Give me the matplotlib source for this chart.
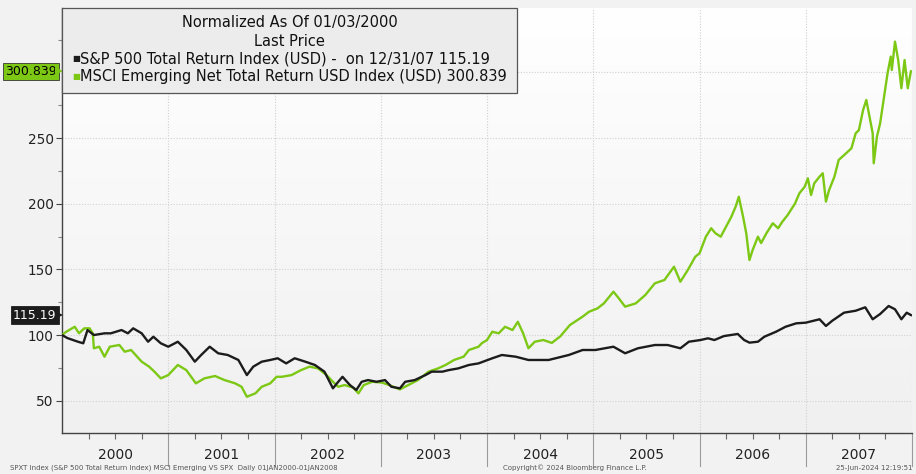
import numpy as np
import matplotlib
matplotlib.use("Agg")
import matplotlib.pyplot as plt
from matplotlib.transforms import blended_transform_factory
from matplotlib.patches import Rectangle

# ---------------- data (decimal years, normalized values) ----------------
spx_t = [2000.00, 2000.05, 2000.15, 2000.20, 2000.24, 2000.30, 2000.40, 2000.46, 2000.56, 2000.62,
         2000.67, 2000.75, 2000.81, 2000.86, 2000.93, 2001.00, 2001.09, 2001.17, 2001.25, 2001.31,
         2001.39, 2001.47, 2001.56, 2001.66, 2001.74, 2001.80, 2001.88, 2001.96, 2002.03, 2002.11,
         2002.19, 2002.29, 2002.38, 2002.47, 2002.55, 2002.60, 2002.64, 2002.71, 2002.77, 2002.82,
         2002.88, 2002.96, 2003.04, 2003.10, 2003.18, 2003.23, 2003.32, 2003.42, 2003.48, 2003.58,
         2003.64, 2003.73, 2003.83, 2003.92, 2004.05, 2004.14, 2004.27, 2004.39, 2004.58, 2004.77,
         2004.90, 2005.02, 2005.19, 2005.30, 2005.42, 2005.58, 2005.70, 2005.82, 2005.90, 2006.01,
         2006.08, 2006.14, 2006.23, 2006.36, 2006.42, 2006.47, 2006.55, 2006.61, 2006.72, 2006.81,
         2006.91, 2007.00, 2007.13, 2007.19, 2007.25, 2007.36, 2007.47, 2007.56, 2007.63, 2007.70,
         2007.78, 2007.84, 2007.90, 2007.95, 2007.99]
spx_v = [100.0, 97.7, 94.9, 93.7, 103.8, 100.0, 101.3, 101.3, 103.8, 101.3,
         105.1, 101.3, 94.9, 98.7, 93.7, 91.1, 94.9, 88.6, 79.7, 84.8,
         91.1, 86.1, 84.8, 81.0, 69.5, 75.9, 79.7, 81.0, 82.3, 78.4,
         82.3, 79.7, 77.2, 72.1, 59.4, 64.4, 68.2, 61.9, 58.1, 64.4,
         65.7, 64.4, 65.7, 60.6, 59.4, 64.4, 65.7, 69.5, 72.1, 72.1,
         73.3, 74.6, 77.2, 78.4, 82.3, 84.8, 83.5, 81.0, 81.0, 84.8,
         88.6, 88.6, 91.1, 86.1, 89.9, 92.4, 92.4, 89.9, 94.9, 96.2,
         97.5, 96.2, 99.2, 100.8, 96.2, 94.2, 94.9, 98.7, 102.5, 106.3,
         108.9, 109.4, 112.0, 106.9, 110.9, 117.0, 118.5, 121.1, 112.0, 116.0,
         122.1, 119.6, 112.0, 117.0, 115.19]

em_t = [2000.00, 2000.04, 2000.12, 2000.16, 2000.21, 2000.26, 2000.29, 2000.30, 2000.35, 2000.40,
        2000.45, 2000.54, 2000.59, 2000.65, 2000.75, 2000.82, 2000.87, 2000.93, 2001.00, 2001.09,
        2001.17, 2001.26, 2001.34, 2001.44, 2001.53, 2001.63, 2001.69, 2001.74, 2001.82, 2001.88,
        2001.96, 2002.02, 2002.07, 2002.16, 2002.25, 2002.33, 2002.41, 2002.49, 2002.55, 2002.60,
        2002.66, 2002.74, 2002.79, 2002.84, 2002.92, 2003.01, 2003.08, 2003.18, 2003.26, 2003.35,
        2003.45, 2003.54, 2003.61, 2003.69, 2003.78, 2003.83, 2003.92, 2003.95, 2004.00, 2004.05,
        2004.11, 2004.17, 2004.24, 2004.29, 2004.34, 2004.39, 2004.45, 2004.53, 2004.61, 2004.69,
        2004.78, 2004.90, 2004.96, 2005.04, 2005.10, 2005.19, 2005.24, 2005.30, 2005.40, 2005.49,
        2005.58, 2005.67, 2005.76, 2005.82, 2005.89, 2005.96, 2006.00, 2006.03, 2006.06, 2006.11,
        2006.15, 2006.20, 2006.25, 2006.30, 2006.34, 2006.37, 2006.41, 2006.44, 2006.47, 2006.50,
        2006.55, 2006.58, 2006.63, 2006.69, 2006.74, 2006.78, 2006.83, 2006.90, 2006.94, 2006.99,
        2007.02, 2007.05, 2007.08, 2007.13, 2007.16, 2007.19, 2007.22, 2007.27, 2007.31, 2007.38,
        2007.43, 2007.47, 2007.50, 2007.54, 2007.57, 2007.60, 2007.63, 2007.64, 2007.67, 2007.70,
        2007.73, 2007.77, 2007.80, 2007.81, 2007.84, 2007.87, 2007.90, 2007.93, 2007.96, 2007.99]
em_v = [100.0, 102.5, 106.3, 101.3, 105.1, 105.1, 101.3, 89.9, 91.1, 83.5,
        91.1, 92.4, 87.3, 88.6, 79.7, 75.9, 72.1, 67.0, 69.5, 77.2,
        73.3, 63.2, 67.0, 68.8, 65.7, 63.2, 60.6, 53.0, 55.6, 60.6,
        63.2, 68.2, 68.2, 69.5, 73.3, 75.9, 74.6, 69.5, 64.4, 60.6,
        61.9, 60.0, 55.6, 61.9, 64.4, 63.8, 61.9, 58.6, 61.9, 65.7,
        72.1, 74.6, 77.2, 81.0, 83.5, 88.6, 91.1, 93.7, 96.2, 102.5,
        101.3, 106.3, 103.8, 110.1, 101.3, 89.9, 94.9, 96.2, 94.0, 99.0,
        107.6, 114.0, 117.7, 120.3, 124.1, 133.0, 128.0, 121.6, 124.1, 130.5,
        139.4, 141.9, 152.0, 140.6, 149.5, 159.6, 162.2, 168.5, 174.9, 181.3,
        177.5, 174.9, 182.5, 190.1, 197.7, 205.3, 190.1, 177.5, 157.1, 164.7,
        174.9, 170.0, 177.5, 185.1, 181.3, 186.3, 191.4, 200.3, 207.9, 212.9,
        219.3, 206.6, 215.5, 220.6, 223.2, 201.6, 210.4, 220.6, 233.3, 238.4,
        242.2, 253.6, 256.0, 271.4, 279.0, 266.3, 253.6, 230.8, 251.0, 261.2,
        277.7, 299.3, 312.0, 301.8, 323.4, 309.4, 287.9, 309.4, 287.9, 300.839]

years = [2000, 2001, 2002, 2003, 2004, 2005, 2006, 2007]
y_ticks = [50, 100, 150, 200, 250]
grid_y = [50, 100, 150, 200, 250, 300]

spx_label = "S&P 500 Total Return Index (USD) -  on 12/31/07 115.19"
em_label = "MSCI Emerging Net Total Return USD Index (USD) 300.839"
spx_last = "115.19"
em_last = "300.839"

BLACK = "#1c1c1c"
GREEN = "#7cc815"

# ---------------- figure ----------------
W, H = 916, 474
fig = plt.figure(figsize=(W / 100, H / 100), dpi=100, facecolor="#f2f2f2")
L, R, T, B = 62, 912, 8, 433
ax = fig.add_axes([L / W, 1 - B / H, (R - L) / W, (B - T) / H])
ax.set_xlim(2000.0, 2008.0)
ax.set_ylim(25.4, 349)
ax.set_facecolor("#f7f7f7")

# gradient background
grad = np.linspace(1.0, 0.0, 256).reshape(-1, 1)
ax.imshow(grad, extent=[0, 1, 0, 1], transform=ax.transAxes, aspect="auto",
          cmap=matplotlib.colors.LinearSegmentedColormap.from_list("g", ["#f0f0f0", "#ffffff"]),
          zorder=0, interpolation="bicubic")

# grid
for gy in grid_y:
    ax.axhline(gy, color="#d0d0d0", lw=0.8, ls=(0, (1, 1.5)), zorder=1)
for yr in years[1:] + [2008]:
    ax.axvline(yr, color="#d0d0d0", lw=0.8, ls=(0, (1, 1.5)), zorder=1)

ax.plot(em_t, em_v, color=GREEN, lw=1.7, zorder=3, solid_joinstyle="round")
ax.plot(spx_t, spx_v, color=BLACK, lw=1.7, zorder=4, solid_joinstyle="round")

# spines
for s in ["top", "right"]:
    ax.spines[s].set_visible(False)
for s in ["left", "bottom"]:
    ax.spines[s].set_color("#444444")
    ax.spines[s].set_linewidth(1.0)

ax.set_yticks(y_ticks)
ax.set_yticklabels([str(v) for v in y_ticks], fontsize=9.8, color="#222222")
ax.set_yticks([75, 125, 175, 225, 275, 325], minor=True)
ax.tick_params(axis="y", which="major", length=4, width=0.8, color="#444444", pad=2)
ax.tick_params(axis="y", which="minor", length=3, width=0.8, color="#888888")

qticks = [y + q / 4 for y in years for q in range(1, 4)]
ax.set_xticks(qticks, minor=True)
ax.set_xticks([])
ax.tick_params(axis="x", which="minor", length=4, width=0.8, color="#666666")

# year labels and separators
bt = blended_transform_factory(ax.transData, fig.transFigure)
for yr in years:
    ax.text(yr + 0.5, 1 - 455 / H, str(yr), transform=bt, ha="center", va="center",
            fontsize=10, color="#222222")
for yr in years[1:] + [2008]:
    ax.plot([yr, yr], [1 - B / H, 1 - 466 / H], transform=bt, color="#9a9a9a",
            lw=0.8, clip_on=False)

# last-value tags on the left
tt = blended_transform_factory(ax.transAxes, ax.transData)
for val, txt, fc, tc in [(spx_v[-1], spx_last, BLACK, "white"), (em_v[-1], em_last, GREEN, "black")]:
    ax.text(-0.0065, val, txt, transform=tt, ha="right", va="center", fontsize=9, color=tc,
            bbox=dict(boxstyle="square,pad=0.18", fc=fc, ec="#333333" if fc == GREEN else fc, lw=0.6),
            zorder=10, clip_on=False)
    ax.plot([-0.0035], [val], transform=tt, marker=">", ms=6, color=fc, clip_on=False, zorder=11,
            markeredgewidth=0)

# legend box
ax_fig = fig.transFigure
box = Rectangle((L / W, 1 - 93 / H), (517 - L) / W, (93 - T) / H, transform=ax_fig,
                fc="#ececec", ec="#555555", lw=0.9, zorder=20)
fig.patches.append(box)
cx = (L + 517) / 2 / W
FS = 10.5
fig.text(cx, 1 - 22 / H, "Normalized As Of 01/03/2000", ha="center", va="center", fontsize=FS,
         color="#111111", zorder=21)
fig.text(cx, 1 - 41 / H, "Last Price", ha="center", va="center", fontsize=FS, color="#111111", zorder=21)
fig.text(72 / W, 1 - 59 / H, "■", ha="left", va="center", fontsize=6, color=BLACK, zorder=21)
fig.text(80 / W, 1 - 59 / H, spx_label, ha="left", va="center", fontsize=FS, color="#111111", zorder=21)
fig.text(72 / W, 1 - 76 / H, "■", ha="left", va="center", fontsize=6, color=GREEN, zorder=21)
fig.text(80 / W, 1 - 76 / H, em_label, ha="left", va="center", fontsize=FS, color="#111111", zorder=21)

# footer
fig.text(10 / W, 1 - 468 / H, "SPXT Index (S&P 500 Total Return Index) MSCI Emerging VS SPX  Daily 01JAN2000-01JAN2008",
         ha="left", va="center", fontsize=5.0, color="#555555")
fig.text(575 / W, 1 - 468 / H, "Copyright© 2024 Bloomberg Finance L.P.", ha="center", va="center",
         fontsize=5.0, color="#555555")
fig.text(913 / W, 1 - 468 / H, "25-Jun-2024 12:19:51", ha="right", va="center", fontsize=5.0, color="#555555")

fig.savefig("out.png", dpi=100, facecolor=fig.get_facecolor())
